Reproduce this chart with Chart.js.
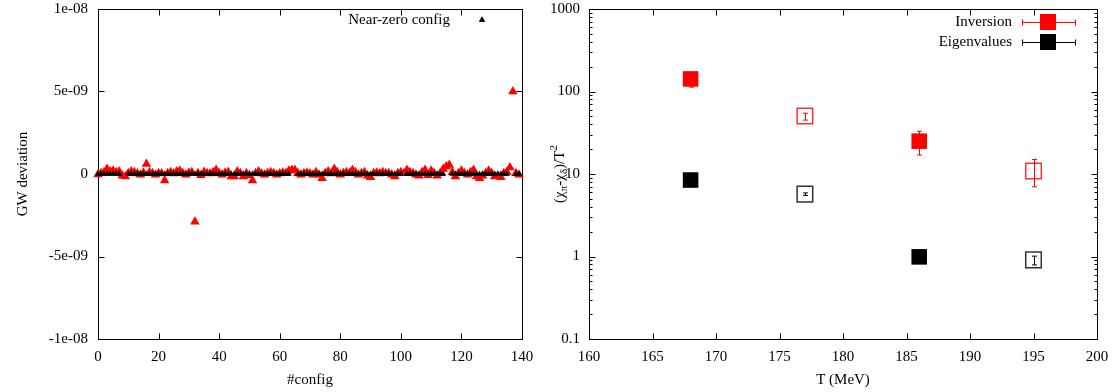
<!DOCTYPE html>
<html><head><meta charset="utf-8">
<script src="https://cdn.jsdelivr.net/npm/chart.js@4.4.0/dist/chart.umd.min.js"></script>
<style>
html,body{margin:0;padding:0;background:#fff;width:1115px;height:392px;overflow:hidden}
#c1{position:absolute;left:0;top:0}
#c2{position:absolute;left:540px;top:0}
</style></head><body>
<canvas id="c1" width="540" height="392"></canvas>
<canvas id="c2" width="575" height="392"></canvas>
<script>
// ---------------- data: left panel ----------------
const configs = [0,1,2,3,4,5,6,7,8,9,10,11,12,13,14,15,16,17,18,19,20,21,22,23,24,25,26,27,28,29,30,31,32,33,34,35,36,37,38,39,40,41,42,43,44,45,46,47,48,49,50,51,52,53,54,55,56,57,58,59,60,61,62,63,64,65,66,67,68,69,70,71,72,73,74,75,76,77,78,79,80,81,82,83,84,85,86,87,88,89,90,91,92,93,94,95,96,97,98,99,100,101,102,103,104,105,106,107,108,109,110,111,112,113,114,115,116,117,118,119,120,121,122,123,124,125,126,127,128,129,130,131,132,133,134,135,136,137,138,139];
// GW deviation of every config, in units of 1e-10
const gwDev = [-0.3,0.5,1.0,3.0,1.5,2.0,1.0,1.5,-1.0,-1.5,0.5,1.5,1.0,0.3,-0.5,0.8,6.0,1.0,0.5,-0.5,0.5,0.3,-4.0,0.5,1.0,0.3,1.5,2.0,0.5,-0.5,0.8,1.0,-29.0,0.5,-0.8,1.2,0.5,0.3,1.0,2.5,0.5,-0.5,0.8,1.2,-1.5,-1.5,1.5,0.5,-1.5,0.5,-0.8,-4.0,0.5,1.5,0.3,-0.5,0.5,1.0,0.5,-0.5,0.3,0.8,0.5,2.0,2.5,2.5,0.5,-0.5,0.5,0.8,0.3,-0.5,1.0,-0.5,-2.5,0.5,1.5,0.3,3.0,1.0,-0.5,0.5,1.0,0.5,2.5,1.0,-0.5,0.5,1.0,-1.0,-2.0,0.5,0.8,0.3,1.0,0.5,0.5,-0.5,-1.5,0.5,1.0,0.5,2.5,1.0,0.5,-0.5,-1.0,1.0,2.5,-0.8,2.0,0.5,-1.0,0.5,3.0,4.5,5.5,1.0,-1.5,0.5,2.0,0.5,-0.5,1.0,2.5,-1.5,-2.5,-1.0,0.5,2.0,0.5,-1.5,-1.0,-2.0,0.5,1.0,4.0,50.0,0.5,-0.5];
const GW_UNIT = 1e-10;
const nearZeroConfigs = [0,1,2,3,4,5,6,7,10,11,12,13,14,15,16,17,18,19,20,21,22,23,24,25,26,27,28,29,30,31,32,33,34,35,36,37,38,39,40,41,42,43,44,45,46,47,48,49,50,51,52,53,54,55,56,57,58,59,60,61,62,63,66,67,68,69,70,71,72,73,74,75,76,77,78,79,80,81,82,83,84,85,86,87,88,89,90,91,92,93,94,95,96,97,98,99,100,102,103,104,105,106,107,108,109,110,111,112,113,114,117,118,119,120,121,122,123,124,125,126,127,128,129,130,131,132,133,134,135,138,139];
const nearZeroDev = [0,0,0,0,0,0,0,0,0,0,0,0,0,0,0,0,0,0,0,0,0,0,0,0,0,0,0,0,0,0,0,0,0,0,0,0,0,0,0,0,0,0,0,0,0,0,0,0,0,0,0,0,0,0,0,0,0,0,0,0,0,0,0,0,0,0,0,0,0,0,0,0,0,0,0,0,0,0,0,0,0,0,0,0,0,0,0,0,0,0,0,0,0,0,0,0,0,0,0,0,0,0,0,0,0,0,0,0,0,0,0,0,0,0,0,0,0,0,0,0,0,0,0,0,0,0,0,0,0,0,0];
const configTicks = [0,20,40,60,80,100,120,140];
const gwTicks = [-1e-8,-5e-9,0,5e-9,1e-8];
const gwTickLabels = ['-1e-08','-5e-09','0','5e-09','1e-08'];

// ---------------- data: right panel ----------------
const temps = [168,177,186,195];
const filledPoint = [true,false,true,false];
const invVal = [142,50.5,25,10.9];
const invLo  = [113,45,17,7];
const invHi  = [165,54.5,33,15];
const eigVal = [8.45,5.7,0.99,0.91];
const eigLo  = [8.2,5.5,0.97,0.79];
const eigHi  = [8.7,5.9,1.01,1.01];
const tempTicks = [160,165,170,175,180,185,190,195,200];
const chiTicks = [0.1,1,10,100,1000];
const chiTickLabels = ['0.1','1','10','100','1000'];

// ---------------- styling ----------------
const FONT = "'Liberation Serif','Times New Roman',serif";
Chart.defaults.font.family = FONT;
Chart.defaults.font.size = 15;
Chart.defaults.color = '#000';
Chart.defaults.animation = false;

function line(ctx,x1,y1,x2,y2){ctx.beginPath();ctx.moveTo(x1,y1);ctx.lineTo(x2,y2);ctx.stroke();}

function framePlugin(xT, yT, yMinor){
  return {
    id:'frame',
    beforeDatasetsDraw(chart){
      const {ctx, chartArea:a, scales} = chart;
      ctx.save();
      ctx.strokeStyle='#000'; ctx.lineWidth=1;
      const L=Math.round(a.left)+0.5, R=Math.round(a.right)+0.5, T=Math.round(a.top)+0.5, B=Math.round(a.bottom)+0.5;
      ctx.strokeRect(L,T,R-L,B-T);
      const M=6;
      xT.forEach(v=>{const x=Math.round(scales.x.getPixelForValue(v))+0.5; line(ctx,x,B,x,B-M); line(ctx,x,T,x,T+M);});
      yT.forEach(v=>{const y=Math.round(scales.y.getPixelForValue(v))+0.5; line(ctx,L,y,L+M,y); line(ctx,R,y,R-M,y);});
      (yMinor||[]).forEach(v=>{const y=Math.round(scales.y.getPixelForValue(v))+0.5; line(ctx,L,y,L+3,y); line(ctx,R,y,R-3,y);});
      ctx.restore();
    }
  };
}
function fitX(s){ s.height=53; s.paddingLeft=0; s.paddingRight=0; }
function fitY(s,w){ s.width=w; s.paddingTop=0; s.paddingBottom=0; }

// ---------------- left chart ----------------
const redPts = configs.map((c,i)=>({x:c, y:gwDev[i]*GW_UNIT}));
const blackPts = nearZeroConfigs.map((c,i)=>({x:c, y:nearZeroDev[i]}));

const leftLegend = {
  id:'leftLegend',
  afterDraw(chart){
    const ctx=chart.ctx; ctx.save();
    ctx.font = "15px "+FONT; ctx.fillStyle='#000'; ctx.textAlign='right'; ctx.textBaseline='middle';
    ctx.fillText(chart.data.datasets[0].label, 450, 20);
    Chart.helpers.drawPoint(ctx,{pointStyle:'triangle',radius:3.5,borderWidth:0},482,20);
    ctx.fill();
    ctx.restore();
  }
};

new Chart(document.getElementById('c1'),{
  type:'scatter',
  data:{datasets:[
    {label:'Near-zero config', data:blackPts, pointStyle:'triangle', pointRadius:3.5, backgroundColor:'#000', borderColor:'#000', borderWidth:0, clip:false},
    {label:'GW deviation', data:redPts, pointStyle:'triangle', pointRadius:5.5, backgroundColor:'#ff0000', borderColor:'#ff0000', borderWidth:0, clip:false}
  ]},
  options:{
    responsive:false, events:[],
    layout:{padding:{top:9,right:18,left:0,bottom:0}, autoPadding:false},
    plugins:{legend:{display:false},tooltip:{enabled:false}},
    scales:{
      x:{type:'linear',min:0,max:140,
        afterBuildTicks:s=>{s.ticks=configTicks.map(v=>({value:v}));},
        afterFit:fitX,
        grid:{display:false,drawTicks:false}, border:{display:false},
        ticks:{padding:9,maxRotation:0,callback:v=>String(v)},
        title:{display:true,text:'#config',padding:{top:0,bottom:3}}},
      y:{type:'linear',min:-1e-8,max:1e-8,
        afterBuildTicks:s=>{s.ticks=gwTicks.map(v=>({value:v}));},
        afterFit:s=>fitY(s,98),
        grid:{display:false,drawTicks:false}, border:{display:false},
        ticks:{padding:10,callback:(v,i)=>gwTickLabels[i]},
        title:{display:true,text:'GW deviation',padding:{top:14,bottom:0}}}
    }
  },
  plugins:[framePlugin(configTicks,gwTicks,null), leftLegend]
});

// ---------------- right chart ----------------
const chiMinor=[];
[0.1,1,10,100].forEach(d=>{for(let k=2;k<=9;k++) chiMinor.push(+(k*d).toPrecision(3));});

function errorBars(xs, ys, lo, hi, color){ return {xs,ys,lo,hi,color}; }
const bars = [errorBars(temps,invVal,invLo,invHi,'#ff0000'), errorBars(temps,eigVal,eigLo,eigHi,'#000')];

const rightExtras = {
  id:'rightExtras',
  afterDatasetsDraw(chart){
    const {ctx, scales} = chart; ctx.save(); ctx.lineWidth=1;
    bars.forEach(b=>{
      ctx.strokeStyle=b.color;
      b.xs.forEach((t,i)=>{
        const x=Math.round(scales.x.getPixelForValue(t))+0.5;
        const y1=scales.y.getPixelForValue(b.lo[i]), y2=scales.y.getPixelForValue(b.hi[i]);
        line(ctx,x,y1,x,y2); line(ctx,x-2.5,y1,x+2.5,y1); line(ctx,x-2.5,y2,x+2.5,y2);
      });
    });
    ctx.restore();
  },
  afterDraw(chart){
    const ctx=chart.ctx; ctx.save();
    const items=[[chart.data.datasets[0].label,'#ff0000',22],[chart.data.datasets[1].label,'#000',42]];
    items.forEach(([txt,col,y])=>{
      ctx.font="15px "+FONT; ctx.fillStyle='#000'; ctx.textAlign='right'; ctx.textBaseline='middle';
      ctx.fillText(txt,472,y);
      ctx.strokeStyle=col; ctx.lineWidth=1;
      const yy=y+0.5;
      line(ctx,482,yy,535,yy); line(ctx,482.5,yy-3,482.5,yy+3); line(ctx,535.5,yy-3,535.5,yy+3);
      ctx.fillStyle=col; ctx.fillRect(500,y-8,16,16);
    });
    // y-axis title (χπ-χδ)/T²
    const pieces=[['(χ',0],['π',1],['-χ',0],['δ',1],[')/T',0],['2',-1]];
    const fN="15px "+FONT, fS="11px "+FONT;
    let total=0; pieces.forEach(([t,m])=>{ctx.font=m?fS:fN; total+=ctx.measureText(t).width;});
    ctx.translate(20,174); ctx.rotate(-Math.PI/2);
    ctx.fillStyle='#000'; ctx.textAlign='left'; ctx.textBaseline='middle';
    let x=-total/2;
    pieces.forEach(([t,m])=>{ctx.font=m?fS:fN; const dy=m===1?4:(m===-1?-6:0); ctx.fillText(t,x,dy); x+=ctx.measureText(t).width;});
    ctx.restore();
  }
};

const ptColors = (col)=>filledPoint.map(f=>f?col:'rgba(0,0,0,0)');
new Chart(document.getElementById('c2'),{
  type:'scatter',
  data:{datasets:[
    {label:'Inversion', data:temps.map((t,i)=>({x:t,y:invVal[i]})), pointStyle:'rect', pointRadius:11,
      backgroundColor:ptColors('#ff0000'), borderColor:'#ff3030', borderWidth:filledPoint.map(f=>f?0:1.5), clip:false},
    {label:'Eigenvalues', data:temps.map((t,i)=>({x:t,y:eigVal[i]})), pointStyle:'rect', pointRadius:11,
      backgroundColor:ptColors('#000'), borderColor:'#333', borderWidth:filledPoint.map(f=>f?0:1.5), clip:false}
  ]},
  options:{
    responsive:false, events:[],
    layout:{padding:{top:9,right:18,left:0,bottom:0}, autoPadding:false},
    plugins:{legend:{display:false},tooltip:{enabled:false}},
    scales:{
      x:{type:'linear',min:160,max:200,
        afterBuildTicks:s=>{s.ticks=tempTicks.map(v=>({value:v}));},
        afterFit:fitX,
        grid:{display:false,drawTicks:false}, border:{display:false},
        ticks:{padding:9,maxRotation:0,callback:v=>String(v)},
        title:{display:true,text:'T (MeV)',padding:{top:0,bottom:3}}},
      y:{type:'logarithmic',min:0.1,max:1000,
        afterBuildTicks:s=>{s.ticks=chiTicks.map(v=>({value:v}));},
        afterFit:s=>fitY(s,49),
        grid:{display:false,drawTicks:false}, border:{display:false},
        ticks:{padding:9,callback:(v,i)=>chiTickLabels[i]}}
    }
  },
  plugins:[framePlugin(tempTicks,chiTicks,chiMinor), rightExtras]
});
</script>
</body></html>
